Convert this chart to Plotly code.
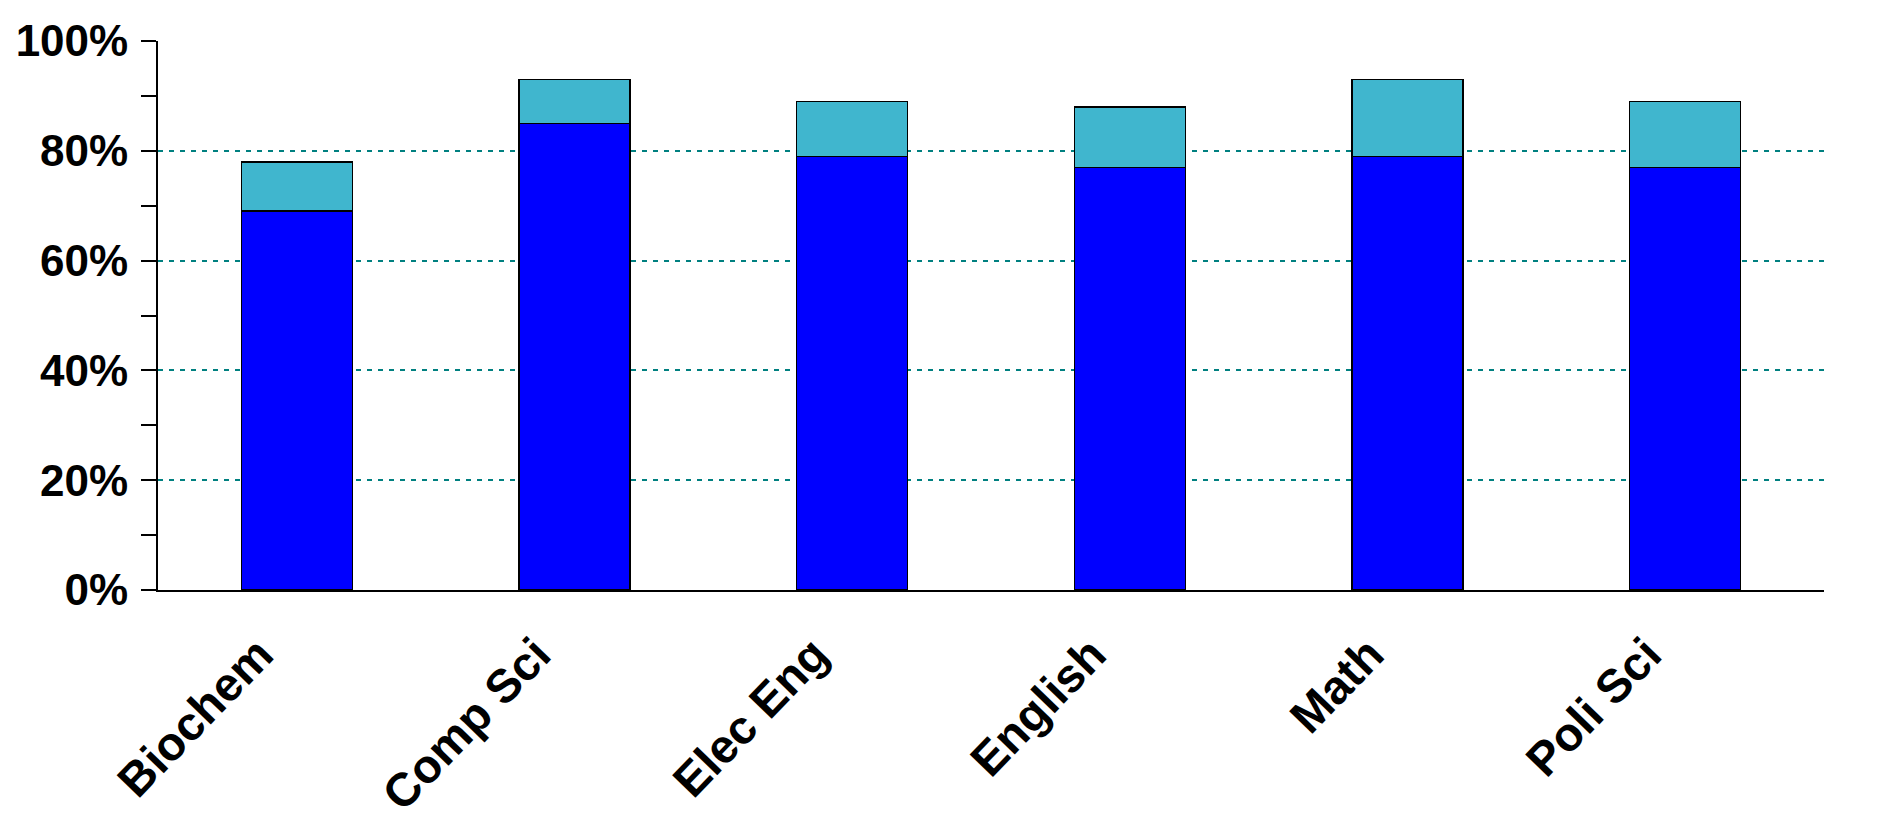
import plotly.graph_objects as go

categories = ["Biochem", "Comp Sci", "Elec Eng", "English", "Math", "Poli Sci"]
lower_pct = [69, 85, 79, 77, 79, 77]
upper_pct = [9, 8, 10, 11, 14, 12]
y_tick_vals = [0, 20, 40, 60, 80, 100]
y_tick_text = ["0%", "20%", "40%", "60%", "80%", "100%"]

FONT = "Liberation Sans, Arial, sans-serif"

fig = go.Figure()
fig.add_trace(go.Bar(
    x=categories, y=lower_pct, name="lower",
    marker=dict(color="#0000FF", line=dict(color="black", width=1.5)),
    hoverinfo="skip",
))
fig.add_trace(go.Bar(
    x=categories, y=upper_pct, name="upper",
    marker=dict(color="#40B6CE", line=dict(color="black", width=1.5)),
    hoverinfo="skip",
))

fig.update_layout(
    barmode="stack",
    bargap=0.6,
    width=1882, height=824,
    margin=dict(l=158, r=58, t=41, b=234, autoexpand=False),
    paper_bgcolor="white", plot_bgcolor="white",
    showlegend=False,
    font=dict(family=FONT, color="black"),
)
fig.update_xaxes(
    showline=True, linecolor="black", linewidth=2,
    ticks="", showgrid=False,
    tickangle=-46,
    ticklabelstandoff=16, ticklabelshift=-38,
    tickfont=dict(family=FONT, size=47, color="black", weight="bold"),
)
fig.update_yaxes(
    range=[0, 100],
    tickvals=y_tick_vals, ticktext=y_tick_text,
    showline=True, linecolor="black", linewidth=2,
    ticks="outside", ticklen=15, tickwidth=2, tickcolor="black",
    showgrid=True, gridcolor="#008080", gridwidth=2, griddash="5px,6px",
    minor=dict(dtick=10, ticks="outside", ticklen=15, tickwidth=2, tickcolor="black", showgrid=False),
    ticklabelstandoff=4,
    tickfont=dict(family=FONT, size=44, color="black", weight="bold"),
    zeroline=False,
)

fig.write_html("out.html")
